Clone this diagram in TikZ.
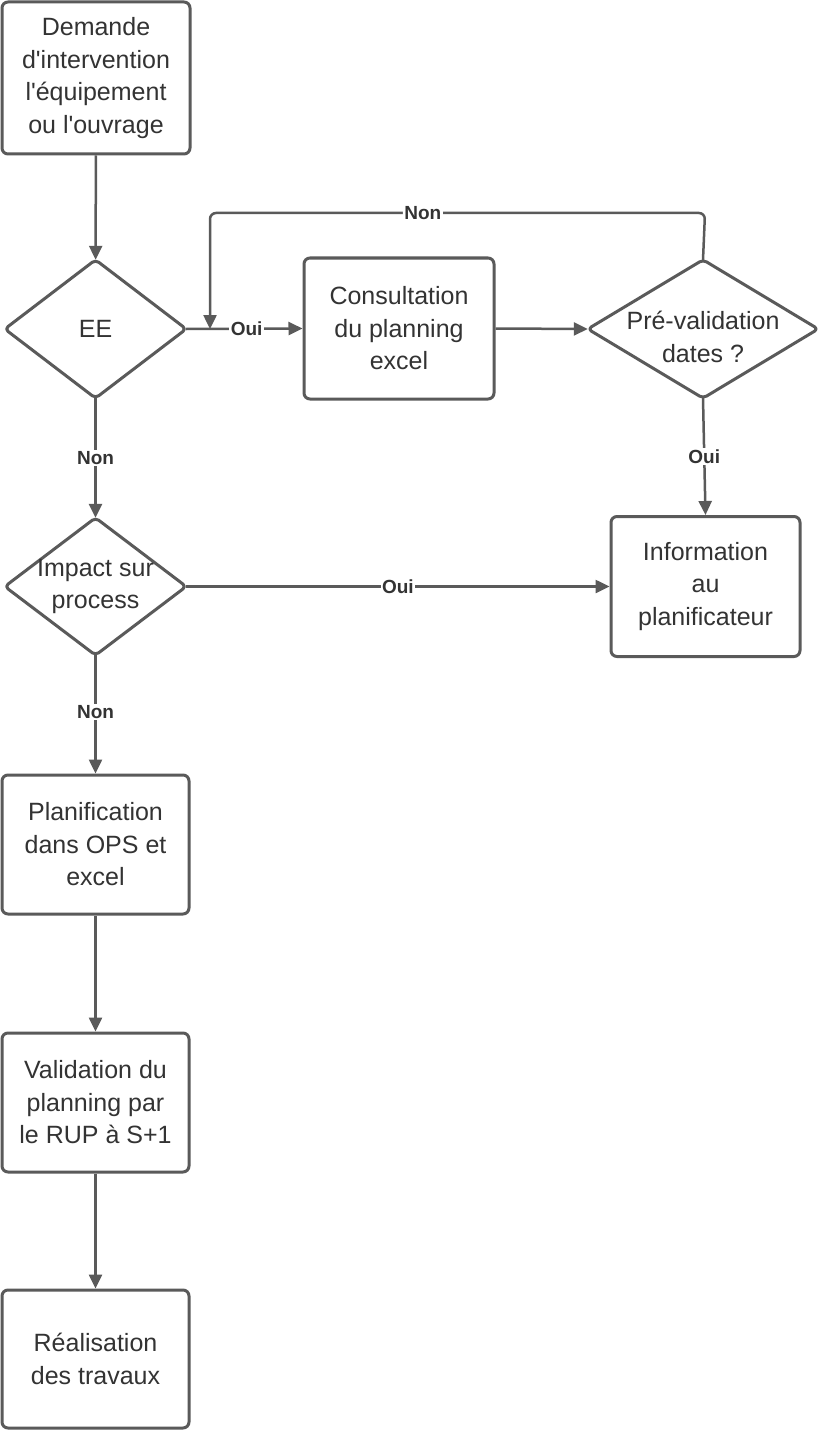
\documentclass[tikz,border=0pt]{standalone}
\usepackage{fontspec}
\setmainfont{Liberation Sans}
\usetikzlibrary{arrows.meta}
\definecolor{linec}{HTML}{5A5A5A}
\definecolor{textc}{HTML}{333333}
\newcommand{\aq}{\textquotesingle}
\begin{document}
\begin{tikzpicture}[x=1pt,y=-1pt,
  every node/.style={text=textc},
  boxn/.style={draw=linec,line width=3pt,rounded corners=6pt,rectangle,align=center,inner sep=0pt,fill=white,
    font=\fontsize{25}{32.5}\selectfont},
  dia/.style={rectangle,align=center,inner sep=0pt,
    font=\fontsize{25}{32.5}\selectfont},
  dshape/.style={draw=linec,line width=3pt,rounded corners=4pt,fill=white,line join=round},
  conn/.style={draw=linec,line width=2.5pt,-{Triangle[length=14pt,width=13pt]}},
  lbl/.style={fill=white,inner sep=1.5pt,font=\fontsize{19}{22}\selectfont\bfseries}
]
\useasboundingbox (0,0) rectangle (819,1431);
\fill[white] (0,0) rectangle (819,1431);

\node[boxn,minimum width=188pt,minimum height=152pt] (dem) at (96,78) {Demande\\d\aq intervention\\l\aq équipement\\ou l\aq ouvrage};
\node[dia,minimum width=181pt,minimum height=138pt] (ee) at (95.5,329) {};
\node[boxn,minimum width=190pt,minimum height=141pt] (cons) at (399,328.5) {Consultation\\du planning\\excel};
\node[dia,minimum width=230pt,minimum height=138pt] (pre) at (703,329) {};
\node[dia,minimum width=181pt,minimum height=137pt] (imp) at (95.5,586.5) {};
\node[boxn,minimum width=189pt,minimum height=140pt] (info) at (705.5,586.5) {Information\\au\\planificateur};
\node[boxn,minimum width=187pt,minimum height=139pt] (plan) at (95.5,844.5) {Planification\\dans OPS et\\excel};
\node[boxn,minimum width=187pt,minimum height=139pt] (val) at (95.5,1102.5) {Validation du\\planning par\\le RUP à S+1};
\node[boxn,minimum width=187pt,minimum height=138pt] (real) at (95.5,1359) {Réalisation\\des travaux};

\foreach \d in {ee,pre,imp}{
  \draw[dshape] (\d.north) -- (\d.east) -- (\d.south) -- (\d.west) -- cycle;
}
\node[dia] (eet) at (ee) {EE};
\node[dia] (pret) at ([yshift=-8pt]pre.center) {Pré-validation\\dates ?};
\node[dia] (impt) at (imp.center) {Impact sur\\process};

\coordinate (t1) at (705,213);
\coordinate (t2) at (210,213);
\coordinate (j) at (210,329);

\draw[conn] (dem) -- (ee);
\draw[conn] (ee.east) -- node[lbl,pos=0.52]{Oui} (cons.west);
\draw[conn] (cons.east) -- (pre.west);
\draw[conn,rounded corners=6pt] (pre.north) -- (t1) -- node[lbl,pos=0.57]{Non} (t2) -- (j);
\draw[conn] (ee.south) -- node[lbl]{Non} (imp.north);
\draw[conn] (pre.south) -- node[lbl]{Oui} (info.north);
\draw[conn] (imp.east) -- node[lbl]{Oui} (info.west);
\draw[conn] (imp.south) -- node[lbl,pos=0.48]{Non} (plan.north);
\draw[conn] (plan) -- (val);
\draw[conn] (val) -- (real);
\end{tikzpicture}
\end{document}
